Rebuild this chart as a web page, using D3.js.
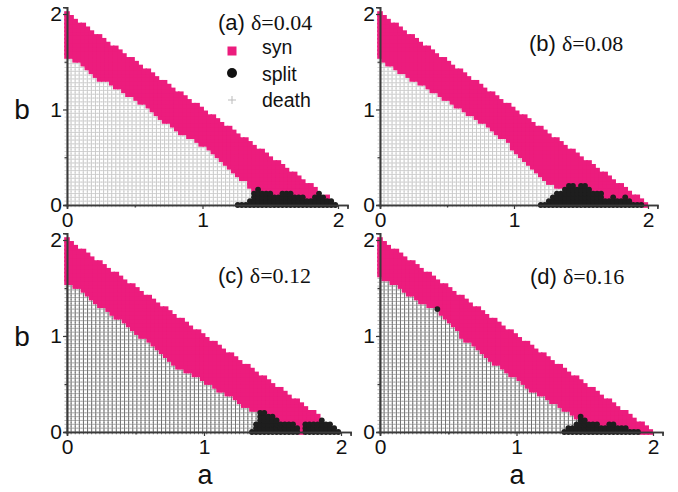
<!DOCTYPE html>
<html><head><meta charset="utf-8">
<script src="https://cdn.jsdelivr.net/npm/d3@7"></script>
<style>body{margin:0;background:#fff}svg{display:block}</style>
</head><body>
<svg id="c" width="678" height="492"></svg>
<script>
// ---- scan grid (parameter steps) ----
const aStep = 0.03, bStep = 0.04, aMax = 2;
const panelIds = ["a","b","c","d"];
const panelTags = ["(a)","(b)","(c)","(d)"];
const deltaTexts = ["δ=0.04","δ=0.08","δ=0.12","δ=0.16"];
const legendLabels = ["syn","split","death"];
const xTickLabels = ["0","1","2"];
const yTickLabels = ["0","1","2"];

// lowest b of the syn band for every a column (a = 0, 0.03, 0.06, ... 1.98)
const synLow_a = [1.56,1.56,1.52,1.52,1.48,1.44,1.40,1.36,1.32,1.32,1.32,1.28,1.24,1.24,1.20,1.16,1.16,1.12,1.08,1.08,
  1.04,1.00,0.96,0.92,0.88,0.88,0.84,0.80,0.76,0.76,0.72,0.72,0.68,0.64,0.64,0.60,0.56,0.52,0.48,0.44,
  0.40,0.36,0.32,0.28,0.28,0.20,0.16,0,0,0,0,0,0,0,0,0,0,0,0,0,0,0,0,0,0,0,0];
const synLow_b = [1.56,1.52,1.48,1.48,1.44,1.40,1.40,1.36,1.32,1.32,1.28,1.28,1.24,1.20,1.20,1.16,1.12,1.12,1.08,1.04,
  1.04,1.00,0.96,0.96,0.92,0.88,0.88,0.84,0.80,0.76,0.72,0.72,0.68,0.60,0.56,0.52,0.48,0.44,0.40,0.36,
  0.32,0.28,0.24,0.24,0.20,0.20,0.20,0,0,0,0,0,0,0,0,0,0,0,0,0,0,0,0,0,0,0,0];
const synLow_c = [1.56,1.56,1.52,1.52,1.48,1.44,1.40,1.36,1.32,1.32,1.28,1.24,1.20,1.20,1.16,1.12,1.08,1.04,1.00,1.00,
  0.96,0.92,0.88,0.84,0.80,0.76,0.72,0.68,0.68,0.64,0.64,0.60,0.60,0.56,0.52,0.52,0.48,0.44,0.44,0.40,
  0.40,0.36,0.32,0.28,0.28,0.24,0.24,0,0,0,0,0,0,0,0,0,0,0,0,0,0,0,0,0,0,0,0];
const synLow_d = [1.64,1.60,1.60,1.56,1.56,1.52,1.48,1.44,1.44,1.40,1.36,1.36,1.32,1.32,1.28,1.24,1.20,1.16,1.12,1.08,
  1.00,0.96,0.96,0.92,0.88,0.84,0.80,0.76,0.72,0.72,0.68,0.64,0.60,0.60,0.56,0.52,0.48,0.44,0.44,0.40,
  0.40,0.36,0.32,0.32,0.28,0.24,0.24,0.20,0.16,0,0,0,0,0,0,0,0,0,0,0,0,0,0,0,0,0,0];

// split columns: a value and top b of the split stack
const splitA_a = [1.26,1.29,1.32,1.35,1.38,1.41,1.44,1.47,1.50,1.53,1.56,1.59,1.62,1.65,1.68,1.71,1.74,1.77,1.80,1.83,1.86,1.89,1.92,1.95,1.98];
const splitTop_a = [0,0,0,0.04,0.12,0.16,0.12,0.12,0.12,0.08,0.08,0.12,0.12,0.12,0.08,0.08,0.08,0.04,0.04,0.08,0.12,0.08,0.04,0.04,0];
const splitA_b = [1.20,1.23,1.26,1.29,1.32,1.35,1.38,1.41,1.44,1.47,1.50,1.53,1.56,1.59,1.62,1.65,1.68,1.71,1.74,1.77,1.80,1.83,1.86,1.89,1.92,1.95];
const splitTop_b = [0,0,0.04,0.08,0.12,0.12,0.16,0.20,0.20,0.16,0.20,0.20,0.16,0.12,0.12,0.12,0.04,0.04,0.08,0.04,0.04,0.08,0.04,0,0,0];
const splitA_c = [1.35,1.38,1.41,1.44,1.47,1.50,1.53,1.56,1.59,1.62,1.65,1.68,1.74,1.77,1.80,1.83,1.86,1.89,1.92,1.95,1.98];
const splitTop_c = [0,0.08,0.20,0.20,0.16,0.16,0.12,0.08,0.08,0.08,0.08,0.04,0.08,0.08,0.08,0.08,0.12,0.12,0.08,0.04,0];
const splitA_d = [1.35,1.38,1.41,1.44,1.47,1.50,1.53,1.56,1.59,1.62,1.65,1.68,1.71,1.74,1.77,1.80,1.83,1.86,1.89];
const splitTop_d = [0,0.04,0.04,0.08,0.16,0.12,0.08,0.08,0.08,0.04,0.04,0.08,0.08,0.04,0.04,0.04,0,0,0];
// isolated split point
const splitExtraA_d = [0.42];
const splitExtraB_d = [1.28];

const data = {
  a:{low:synLow_a, sA:splitA_a, sT:splitTop_a, exA:[], exB:[]},
  b:{low:synLow_b, sA:splitA_b, sT:splitTop_b, exA:[], exB:[]},
  c:{low:synLow_c, sA:splitA_c, sT:splitTop_c, exA:[], exB:[]},
  d:{low:synLow_d, sA:splitA_d, sT:splitTop_d, exA:splitExtraA_d, exB:splitExtraB_d}
};

const layout = {
  a:{x0:67, x2:338, y0:205, y2:14, tagX:218, tagY:30, dark:false},
  b:{x0:380, x2:648, y0:205, y2:14, tagX:529, tagY:51, dark:false},
  c:{x0:67, x2:341, y0:432, y2:240, tagX:218, tagY:283, dark:true},
  d:{x0:380, x2:653, y0:432, y2:240, tagX:530, tagY:284, dark:true}
};

const PINK = "#ec1c7d", BLACK = "#1e1e1e";
const SANS = "Liberation Sans, Arial, sans-serif", SERIF = "Liberation Serif, Times New Roman, serif";
const svg = d3.select("#c");

function buildPoints(id){
  const D = data[id];
  const pts = [];
  D.low.forEach((low,i)=>{
    const a = +(i*aStep).toFixed(4);
    const k = D.sA.findIndex(v=>Math.abs(v-a)<aStep/2);
    const sTop = k>=0 ? D.sT[k] : -1;
    for(let j=0;;j++){
      const b = +(j*bStep).toFixed(4);
      if(a+b>aMax+1e-9) break;
      let cls;
      if(b<=sTop+1e-9) cls="split";
      else if(b>=low-1e-9) cls="syn";
      else cls="death";
      const isExtra = D.exA.some((ea,m)=>Math.abs(ea-a)<1e-6 && Math.abs(D.exB[m]-b)<1e-6);
      if(isExtra) cls="split";
      pts.push({a,b,cls});
    }
  });
  return pts;
}

panelIds.forEach((id,pi)=>{
  const L = layout[id];
  const x = d3.scaleLinear().domain([0,2]).range([L.x0,L.x2]);
  const y = d3.scaleLinear().domain([0,2]).range([L.y0,L.y2]);
  const g = svg.append("g");
  const pts = buildPoints(id);
  const dx = x(aStep)-x(0), dy = y(0)-y(bStep);

  // death plus markers
  const death = pts.filter(p=>p.cls==="death");
  const hcol = L.dark ? "#adadad" : "#cfcfcf";
  const vcol = L.dark ? "#666666" : "#c6c6c6";
  g.append("g").selectAll("line").data(death).join("line")
    .attr("x1",p=>x(p.a)-dx*0.62).attr("x2",p=>x(p.a)+dx*0.62)
    .attr("y1",p=>y(p.b)).attr("y2",p=>y(p.b))
    .attr("stroke",hcol).attr("stroke-width",0.9);
  g.append("g").selectAll("line").data(death).join("line")
    .attr("x1",p=>x(p.a)).attr("x2",p=>x(p.a))
    .attr("y1",p=>y(p.b)-dy*0.6).attr("y2",p=>y(p.b)+dy*0.6)
    .attr("stroke",vcol).attr("stroke-width",0.9);

  // syn squares
  const syn = pts.filter(p=>p.cls==="syn");
  const sq = 5.6;
  g.append("g").selectAll("rect").data(syn).join("rect")
    .attr("x",p=>x(p.a)-sq/2).attr("y",p=>y(p.b)-sq/2)
    .attr("width",sq).attr("height",sq).attr("fill",PINK);

  // split circles
  const split = pts.filter(p=>p.cls==="split");
  g.append("g").selectAll("circle").data(split).join("circle")
    .attr("cx",p=>x(p.a)).attr("cy",p=>y(p.b)).attr("r",2.9).attr("fill",BLACK);

  // axes
  const xAxisScale = d3.scaleLinear().domain([0,2.07]).range([L.x0, x(2.07)]);
  const yAxisScale = d3.scaleLinear().domain([0,2.07]).range([L.y0, y(2.07)]);
  const ax = g.append("g").attr("transform",`translate(0,${L.y0})`)
    .call(d3.axisBottom(xAxisScale).tickValues([0,1,2]).tickSize(4).tickFormat((d,i)=>xTickLabels[i]));
  const ay = g.append("g").attr("transform",`translate(${L.x0},0)`)
    .call(d3.axisLeft(yAxisScale).tickValues([0,1,2]).tickSize(4).tickFormat((d,i)=>yTickLabels[i]));
  g.append("g").attr("transform",`translate(0,${L.y0})`)
    .call(d3.axisBottom(xAxisScale).tickValues([0.5,1.5]).tickSize(2.5).tickFormat(""));
  g.append("g").attr("transform",`translate(${L.x0},0)`)
    .call(d3.axisLeft(yAxisScale).tickValues([0.5,1.5]).tickSize(2.5).tickFormat(""));
  g.selectAll(".domain").attr("stroke","#3a3a3a").attr("stroke-width",1.6);
  g.selectAll(".tick line").attr("stroke","#3a3a3a").attr("stroke-width",1.2);
  ax.selectAll("text").attr("font-family",SANS).attr("font-size",21).attr("fill","#111").attr("dy",0).attr("y",22);
  ay.selectAll("text").attr("font-family",SANS).attr("font-size",21).attr("fill","#111").attr("x",-5);

  // panel tag
  const t = g.append("text").attr("x",L.tagX).attr("y",L.tagY).attr("font-size",22).attr("fill","#111");
  t.append("tspan").attr("font-family",SANS).text(panelTags[pi]+" ");
  t.append("tspan").attr("font-family",SERIF).text(deltaTexts[pi]);
});

// axis titles
[[22,119],[22,346]].forEach(([tx,ty])=>svg.append("text").attr("x",tx).attr("y",ty).attr("text-anchor","middle")
  .attr("font-family",SANS).attr("font-size",28).attr("fill","#111").text("b"));
[[205,484],[517,484]].forEach(([tx,ty])=>svg.append("text").attr("x",tx).attr("y",ty).attr("text-anchor","middle")
  .attr("font-family",SANS).attr("font-size",27).attr("fill","#111").text("a"));

// legend (panel a)
const lg = svg.append("g");
lg.append("rect").attr("x",227.5).attr("y",46.5).attr("width",9).attr("height",9).attr("fill",PINK);
lg.append("circle").attr("cx",232).attr("cy",73).attr("r",5).attr("fill","#111");
lg.append("line").attr("x1",228).attr("x2",236).attr("y1",100).attr("y2",100).attr("stroke","#bbb").attr("stroke-width",1);
lg.append("line").attr("x1",232).attr("x2",232).attr("y1",96).attr("y2",104).attr("stroke","#bbb").attr("stroke-width",1);
legendLabels.forEach((s,i)=>lg.append("text").attr("x",262).attr("y",54+i*26.5)
  .attr("font-family",SANS).attr("font-size",19.5).attr("fill","#111").text(s));
</script>
</body></html>
